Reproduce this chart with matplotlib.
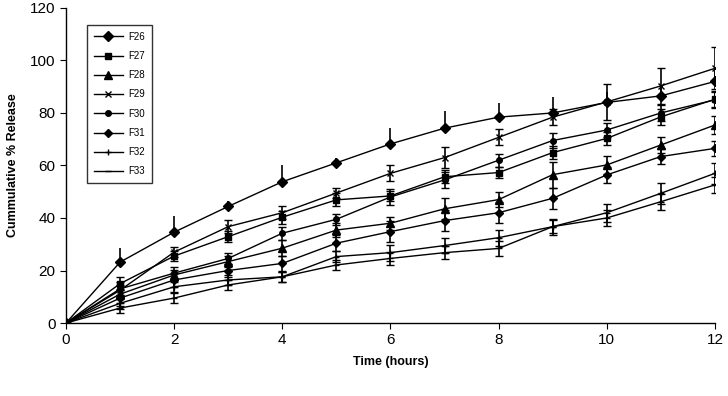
import matplotlib.pyplot as plt

plt.rcParams['font.family'] = 'Liberation Sans'

time = [0, 1, 2, 3, 4, 5, 6, 7, 8, 9, 10, 11, 12]

labels = ['F26', 'F27', 'F28', 'F29', 'F30', 'F31', 'F32', 'F33']
markers = ['D', 's', '^', 'x', 'o', 'D', '+', '_']
msizes = [5, 5, 6, 5, 4, 4, 5, 5]

f26 = [0, 23.2, 34.6, 44.4, 53.8, 61.0, 68.2, 74.2, 78.4, 80.0, 84.0, 86.5, 92.0]
f27 = [0, 15.0, 25.5, 32.9, 40.3, 46.9, 48.4, 55.7, 57.3, 64.9, 70.3, 78.5, 85.2]
f28 = [0, 11.0, 18.3, 23.4, 28.5, 35.4, 38.0, 43.5, 47.0, 56.5, 60.2, 67.8, 75.4]
f29 = [0, 12.5, 27.0, 36.7, 42.0, 49.5, 57.0, 63.0, 70.7, 78.4, 84.2, 90.3, 97.0]
f30 = [0, 13.0, 19.0, 24.6, 34.2, 39.5, 48.0, 54.5, 62.0, 69.5, 73.5, 80.0, 85.0]
f31 = [0, 9.5, 16.4, 20.0, 22.7, 30.4, 34.8, 39.0, 42.0, 47.5, 56.4, 63.4, 66.5]
f32 = [0, 7.5, 13.8, 16.4, 17.6, 25.3, 26.8, 29.5, 32.5, 36.7, 42.0, 49.4, 57.0]
f33 = [0, 5.7, 9.5, 14.5, 17.6, 22.1, 24.6, 26.8, 28.4, 36.7, 40.0, 46.2, 52.6]

err26 = [0, 5.5, 6.0, 2.0, 6.5, 2.0, 6.0, 6.5, 5.5, 6.0, 4.0, 4.0, 4.0]
err27 = [0, 2.5, 2.0, 2.0, 2.5, 2.5, 2.0, 2.5, 2.0, 2.5, 2.5, 3.0, 3.0]
err28 = [0, 2.0, 2.0, 2.0, 3.0, 2.5, 2.5, 4.0, 3.0, 5.0, 3.5, 3.0, 3.5]
err29 = [0, 2.0, 2.0, 2.5, 2.5, 2.0, 3.0, 4.0, 3.0, 3.0, 7.0, 7.0, 8.0]
err30 = [0, 2.5, 2.5, 2.0, 2.5, 2.0, 3.0, 3.0, 2.5, 3.0, 2.5, 3.0, 3.0]
err31 = [0, 3.0, 2.5, 2.5, 3.0, 3.0, 4.0, 4.0, 4.0, 4.0, 3.0, 3.0, 3.0]
err32 = [0, 2.0, 2.0, 2.0, 2.0, 2.0, 3.0, 3.0, 3.0, 3.0, 3.5, 4.0, 4.0]
err33 = [0, 2.0, 2.0, 2.0, 2.0, 2.0, 2.5, 2.5, 3.0, 2.5, 3.0, 3.0, 3.0]

series = [f26, f27, f28, f29, f30, f31, f32, f33]
errors = [err26, err27, err28, err29, err30, err31, err32, err33]

fig = plt.figure(figsize=(7.28, 3.96), dpi=100)
ax = fig.add_axes([0.0907, 0.1843, 0.8913, 0.7957])

handles = []
for i in range(len(series)):
    if i == 0:
        # top curve only shows upward bars
        yerr = [[0] * len(time), errors[i]]
        cap = 0
    else:
        yerr = errors[i]
        cap = 3
    cont = ax.errorbar(time, series[i], yerr=yerr, color='black', ecolor='black',
                       elinewidth=1.2, capsize=cap, capthick=1.2, linewidth=1,
                       marker=markers[i], markersize=msizes[i], markeredgewidth=1,
                       label=labels[i])
    handles.append(cont[0])

ax.set_xlim(0, 12)
ax.set_ylim(0, 120)
ax.set_xticks(range(0, 13, 2))
ax.set_yticks(range(0, 121, 20))
ax.spines['top'].set_visible(False)
ax.spines['right'].set_visible(False)
ax.tick_params(direction='out', length=4, labelsize=11)
ax.set_xlabel("Time (hours)", fontsize=9, fontweight='bold', labelpad=6)
ax.set_ylabel("Cummulative % Release", fontsize=9, fontweight='bold', labelpad=8)
for sp in ax.spines.values():
    sp.set_linewidth(1)

leg = ax.legend(handles, labels, loc='upper left', bbox_to_anchor=(0.032, 0.946),
                fontsize=7, frameon=True, fancybox=False, edgecolor='black',
                handlelength=3.0, handletextpad=0.6, labelspacing=0.95,
                borderpad=0.7, borderaxespad=0)
leg.get_frame().set_linewidth(1)

plt.savefig('out.png', dpi=100)
